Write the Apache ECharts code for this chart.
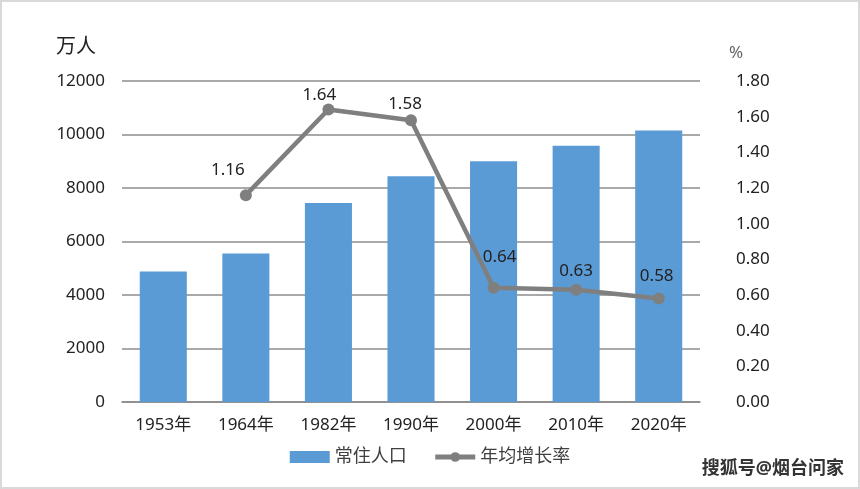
<!DOCTYPE html>
<html>
<head>
<meta charset="utf-8">
<script src="https://cdn.jsdelivr.net/npm/echarts@6/dist/echarts.min.js"></script>
<style>
  html,body{margin:0;padding:0;background:#fff;}
  #pop{width:856px;height:485px;border:2px solid #d9d9d9;}
</style>
</head>
<body>
<div id="pop"></div>
<script>
// 年份
var years = ['1953年','1964年','1982年','1990年','2000年','2010年','2020年'];
// 常住人口（万人）
var population = [4877, 5552, 7442, 8439, 8997, 9579, 10153];
// 年均增长率（%）
var growth = [null, 1.16, 1.64, 1.58, 0.64, 0.63, 0.58];
// label offsets for each point
var labelShift = [[0,0],[-18,0],[-9,10],[-6,8],[6,-6],[0,6],[-2,2]];

var chart = echarts.init(document.getElementById('pop'));
var font = '"Noto Sans", "Noto Sans CJK SC", sans-serif';

var lineData = growth.map(function(v, i){
  return {
    value: v,
    label: {offset: labelShift[i]}
  };
});

var option = {
  animation: false,
  textStyle: {fontFamily: font},
  grid: {left: 120, right: 158, top: 79, bottom: 85},
  legend: {
    bottom: 16,
    left: 'center',
    itemGap: 26,
    itemWidth: 40,
    itemHeight: 12,
    textStyle: {fontSize: 18, color: '#404040', fontFamily: font},
    data: [
      {name: '常住人口', icon: 'rect'},
      {name: '年均增长率', lineStyle: {width: 5}}
    ]
  },
  graphic: [
    {type: 'text', left: 54, top: 35, style: {text: '万人', fontSize: 20, fill: '#222', fontFamily: font}},
    {type: 'text', left: 727, top: 43, style: {text: '%', fontSize: 17, fill: '#666', fontFamily: font}},
    {type: 'text', right: 14, bottom: 9, style: {text: '搜狐号@烟台问家', fontSize: 18, fontWeight: 'bold', fill: '#333', fontFamily: font}}
  ],
  xAxis: {
    type: 'category',
    data: years,
    axisLine: {lineStyle: {color: '#888', width: 1.5}},
    axisTick: {show: false},
    axisLabel: {fontSize: 17, color: '#222', margin: 15}
  },
  yAxis: [
    {
      type: 'value',
      min: 0, max: 12000, interval: 2000,
      axisLine: {show: false},
      axisTick: {show: false},
      splitLine: {lineStyle: {color: '#8c8c8c', width: 1.5}},
      axisLabel: {fontSize: 17, color: '#222', margin: 17, formatter: function(v){ return String(v); }}
    },
    {
      type: 'value',
      min: 0, max: 1.8, interval: 0.2,
      axisLine: {show: false},
      axisTick: {show: false},
      splitLine: {show: false},
      axisLabel: {
        fontSize: 17, color: '#222', margin: 36,
        formatter: function(v){ return v.toFixed(2); }
      }
    }
  ],
  series: [
    {
      name: '常住人口',
      type: 'bar',
      data: population,
      barWidth: '57%',
      itemStyle: {color: '#5b9bd5'}
    },
    {
      name: '年均增长率',
      type: 'line',
      yAxisIndex: 1,
      data: lineData,
      symbol: 'circle',
      symbolSize: 12,
      lineStyle: {color: '#7f7f7f', width: 4.5},
      itemStyle: {color: '#7f7f7f'},
      label: {
        show: true,
        position: 'top',
        distance: 10,
        fontSize: 17,
        color: '#222',
        formatter: function(p){ return p.value.toFixed(2); }
      }
    }
  ]
};
chart.setOption(option);
</script>
</body>
</html>
